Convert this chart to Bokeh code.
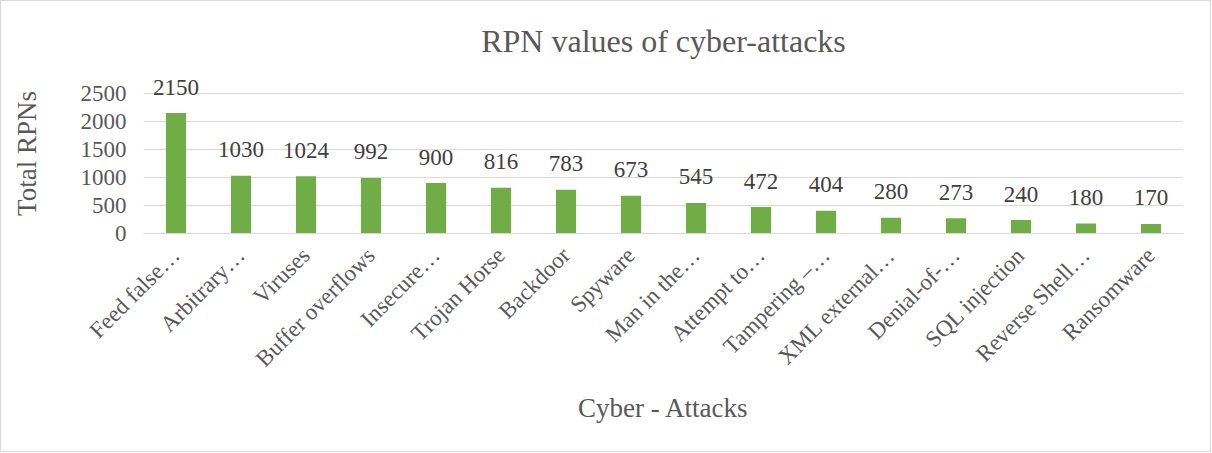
from bokeh.plotting import figure
from bokeh.models import ColumnDataSource
from bokeh.core.properties import value
from bokeh.embed import file_html
from bokeh.resources import INLINE
import math

categories = ["Feed false…", "Arbitrary…", "Viruses", "Buffer overflows", "Insecure…",
              "Trojan Horse", "Backdoor", "Spyware", "Man in the…", "Attempt to…",
              "Tampering –…", "XML external…", "Denial-of-…", "SQL injection",
              "Reverse Shell…", "Ransomware"]
rpn_values = [2150, 1030, 1024, 992, 900, 816, 783, 673, 545, 472, 404, 280, 273, 240, 180, 170]
y_ticks = [0, 500, 1000, 1500, 2000, 2500]

FONT = "Liberation Serif"

src = ColumnDataSource(dict(cat=categories, val=rpn_values, lab=[str(v) for v in rpn_values]))

p = figure(x_range=categories, y_range=(0, 2857), width=1211, height=452,
           output_backend="svg", toolbar_location=None,
           title="RPN values of cyber-attacks",
           min_border_left=142, min_border_right=29, min_border_top=72, min_border_bottom=220)
p.styles = {"border": "1px solid #d9d9d9"}

p.title.align = "center"
p.title.text_font = FONT
p.title.text_font_size = "32px"
p.title.text_font_style = "normal"
p.title.text_color = "#595959"
p.title.standoff = 30

p.vbar(x="cat", top="val", width=0.31, source=src, color="#70AD47", line_color=None)
p.text(x="cat", y="val", text="lab", source=src, text_align="center", text_baseline="alphabetic",
       y_offset=-26, text_font=value(FONT), text_font_size="23px", text_color="#404040")

p.outline_line_color = None
p.xgrid.grid_line_color = None
p.ygrid.grid_line_color = "#d9d9d9"
p.ygrid.grid_line_width = 1

p.yaxis.ticker = y_ticks
p.yaxis.axis_line_color = None
p.yaxis.major_tick_line_color = None
p.yaxis.minor_tick_line_color = None
p.yaxis.major_tick_out = 0
p.yaxis.minor_tick_out = 0
p.yaxis.major_label_standoff = 17
p.yaxis.major_label_text_font = FONT
p.yaxis.major_label_text_font_size = "23px"
p.yaxis.major_label_text_color = "#595959"
p.yaxis.axis_label = "Total RPNs"
p.yaxis.axis_label_text_font = FONT
p.yaxis.axis_label_text_font_size = "27px"
p.yaxis.axis_label_text_font_style = "normal"
p.yaxis.axis_label_text_color = "#595959"
p.yaxis.axis_label_standoff = 36

p.xaxis.axis_line_color = "#d9d9d9"
p.xaxis.major_tick_line_color = None
p.xaxis.minor_tick_line_color = None
p.xaxis.major_tick_out = 0
p.xaxis.minor_tick_out = 0
p.xaxis.major_label_orientation = math.pi / 4
p.xaxis.major_label_text_font = FONT
p.xaxis.major_label_text_font_size = "23px"
p.xaxis.major_label_text_color = "#595959"
p.xaxis.major_label_standoff = 18
p.xaxis.axis_label = "Cyber - Attacks"
p.xaxis.axis_label_text_font = FONT
p.xaxis.axis_label_text_font_size = "27px"
p.xaxis.axis_label_text_font_style = "normal"
p.xaxis.axis_label_text_color = "#595959"
p.xaxis.axis_label_standoff = 10

p.background_fill_color = "white"
p.border_fill_color = "white"

open("out.html", "w").write(file_html(p, INLINE))
